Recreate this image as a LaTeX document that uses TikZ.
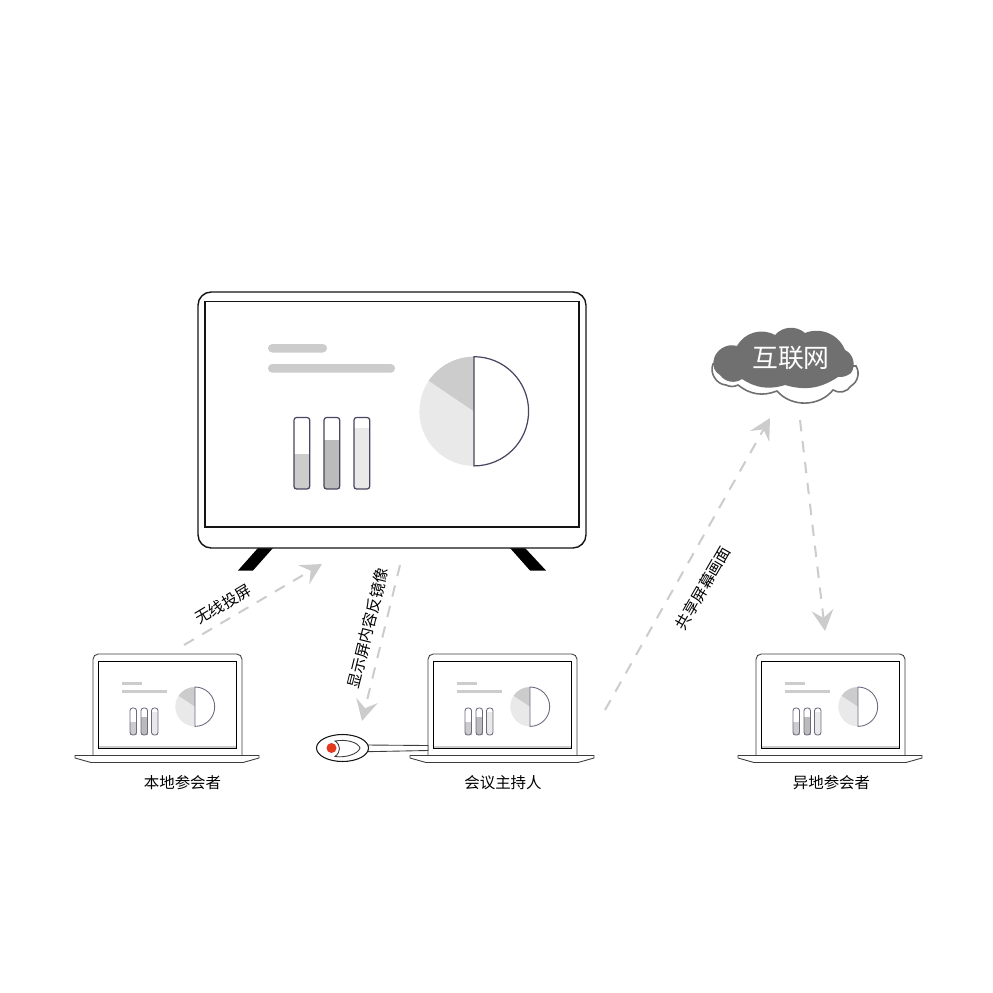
\documentclass[tikz,border=0pt]{standalone}
\usepackage{fontspec}
\setmainfont{Noto Sans CJK SC}
\usetikzlibrary{arrows.meta}
\definecolor{tvline}{RGB}{20,20,20}
\definecolor{lidline}{RGB}{60,60,60}
\definecolor{barline}{RGB}{74,69,96}
\definecolor{lightgrey}{RGB}{233,233,233}
\definecolor{midgrey}{RGB}{204,204,204}
\definecolor{darkgrey}{RGB}{187,187,187}
\definecolor{cloudgrey}{RGB}{112,112,112}
\definecolor{dongred}{RGB}{226,58,30}
\tikzset{
  flow/.style = {line width=1.15pt, dash pattern=on 6.5pt off 5.5pt, draw=midgrey, -{Stealth[length=12pt,width=12.5pt,inset=4.5pt,fill=midgrey]}},
  flowlabel/.style = {font=\fontsize{8.8pt}{10pt}\selectfont, inner sep=0pt},
  bodyline/.style = {draw=tvline, line width=0.6pt},
  lidstyle/.style = {draw=lidline, line width=0.5pt},
  % mini laptop, origin at the top left of its lid
  laptop/.pic = {
    \draw[lidstyle, fill=white, rounded corners=3] (0,101.5) -- (0,0) -- (149,0) -- (149,101.5);
    \draw[line width=1pt, draw=midgrey] (5.5,93.2) -- (142.5,93.2);
    \draw[lidstyle, draw=black] (5,7) rectangle (143,94);
    \draw[lidstyle, fill=white] (-18,101.5) -- (166,101.5) -- (166,104) -- (150,108.5) -- (-2,108.5) -- (-18,104) -- cycle;
    \fill[midgrey] (28.5,28) rectangle (48.5,31);
    \fill[midgrey] (28.5,36) rectangle (73.5,38.5);
    \foreach \bx/\by/\bcol in {37/68/midgrey, 48/63/darkgrey, 58.5/58/lightgrey} {
      \fill[\bcol] (\bx,\by) rectangle (\bx+6.5,81);
      \draw[barline!80, line width=0.5pt, rounded corners=1.5] (\bx,54) rectangle (\bx+6.5,81);
    }
    \fill[lightgrey] (102,33) arc[start angle=-90, end angle=-270, radius=19.7] -- cycle;
    \fill[midgrey] (102,52.7) -- (102,33) arc[start angle=-90, end angle=-146, radius=19.7] -- cycle;
    \draw[barline!80, fill=white, line width=0.5pt] (102,33) arc[start angle=-90, end angle=90, radius=19.7] -- cycle;
  }
}
\begin{document}
\begin{tikzpicture}[x=0.02cm, y=-0.02cm]
\useasboundingbox (0,0) rectangle (993,993);
% big screen
\fill[black] (258,548) -- (273,548) -- (253,570.5) -- (238,570.5) -- cycle;
\fill[black] (510,548) -- (525,548) -- (546,570.5) -- (530,570.5) -- cycle;
\draw[bodyline, line width=0.8pt, fill=white, rounded corners=7.5pt] (198,292) rectangle (586,548);
\draw[bodyline, line width=0.7pt] (205,301.5) rectangle (579,527);
\fill[midgrey, rounded corners=2.4pt] (268,344) rectangle (327,352.5);
\fill[midgrey, rounded corners=2.4pt] (268,364) rectangle (395,372.7);
\foreach \bx/\by/\bcol in {294/454/midgrey, 324/440/darkgrey, 354/428/lightgrey} {
  \fill[\bcol] (\bx,\by) rectangle (\bx+15.7,489);
  \draw[barline, line width=0.7pt, rounded corners=1.5pt] (\bx,417.5) rectangle (\bx+15.7,489);
}
\fill[lightgrey] (474,356.7) arc[start angle=-90, end angle=-270, radius=54.6] -- cycle;
\fill[midgrey] (474,411.3) -- (474,356.7) arc[start angle=-90, end angle=-146, radius=54.6] -- cycle;
\draw[barline, fill=white, line width=0.7pt] (474,356.7) arc[start angle=-90, end angle=90, radius=54.6] -- cycle;
% laptops
\pic at (93,654) {laptop};
\pic at (428,654) {laptop};
\pic at (756,654) {laptop};
\node[flowlabel] (local) at (182.5,782.5) {本地参会者};
\node[flowlabel] (host) at (503,782.5) {会议主持人};
\node[flowlabel] (remote) at (831.5,782.5) {异地参会者};
% dongle
\draw[lidstyle, fill=white] (366,745) -- (428,745.5) -- (428,750.5) -- (366,751.7) -- cycle;
\draw[bodyline, fill=white] (342.5,748) ellipse[x radius=26, y radius=13.5];
\draw[lidstyle, fill=white] (335,741) .. controls (346,739) and (358,742) .. (360,748) .. controls (358,754) and (346,758) .. (335,756.5) .. controls (341,752) and (341,745) .. (335,741) -- cycle;
\fill[dongred] (331.5,748) circle[radius=5];
% cloud
\draw[draw=cloudgrey, line width=0.9pt, fill=white] (713,364) to[bend right=55] (726,385) to[bend right=25] (738,385)
  to[bend right=30] (777,391) to[bend right=50] (833,390) to[bend right=45] (851,386) to[bend right=45] (856,366) -- cycle;
\fill[cloudgrey] (713.5,361) to[bend left=50] (737,346) to[bend left=45] (775,335) to[bend left=45] (805,333)
  to[bend left=45] (845,350) to[bend left=50] (851,373) to[bend left=20] (838,377) to[bend left=25] (785,385)
  to[bend left=25] (742,379) to[bend left=45] (720,375) to[bend left=35] (713.5,361) -- cycle;
\node[inner sep=0pt, text=white, font=\fontsize{14.7pt}{16pt}\selectfont] (cloud) at (791,358) {互联网};
% connectors
\coordinate (castfrom) at (184,645);
\coordinate (castto) at (322,564);
\coordinate (mirrorfrom) at (400,565);
\coordinate (mirrorto) at (362,721);
\coordinate (sharefrom) at (605,710);
\coordinate (shareto) at (770,418);
\coordinate (viewfrom) at (800,420);
\coordinate (viewto) at (825,631);
\draw[flow] (castfrom) -- (castto);
\draw[flow] (mirrorfrom) -- (mirrorto);
\draw[flow] (sharefrom) -- (shareto);
\draw[flow] (viewfrom) -- (viewto);
\node[flowlabel, rotate=31] (castlabel) at (223,604) {无线投屏};
\node[flowlabel, rotate=76] (mirrorlabel) at (368,628) {显示屏内容反镜像};
\node[flowlabel, rotate=60] (sharelabel) at (703,588) {共享屏幕画面};
\end{tikzpicture}
\end{document}
